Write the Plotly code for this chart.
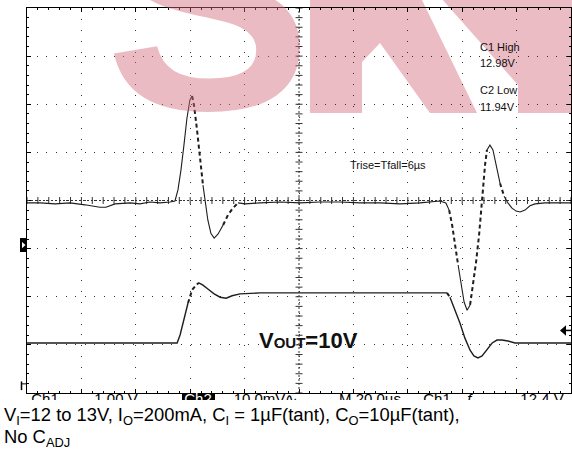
import numpy as np
import plotly.graph_objects as go

# ---------------- data read from the screen capture ----------------
# time in microseconds (M 20.0 us/div, 10 divisions)
ch2_t = [0, 4.8, 10.3, 15.8, 21.3, 26.8, 29.0, 32.4, 37.9, 41.5, 45.2, 48.9, 52.6, 54.4,
         55.5, 56.6, 57.7, 58.8, 59.9, 60.7, 61.4, 62.5, 63.6, 64.7, 65.4, 66.5, 67.6, 68.8,
         70.2, 72.1, 73.9, 75.7, 77.6, 80.2, 85.7, 93.0, 100.4, 107.7, 115.1, 122.4, 129.8,
         137.1, 144.5, 151.8, 154.0, 155.2, 156.3, 157.4, 158.5, 159.6, 160.7, 161.8, 162.9,
         164.0, 165.1, 166.2, 166.9, 167.7, 168.4, 169.1, 170.2, 171.3, 172.4, 173.9, 175.4,
         176.8, 178.3, 179.8, 181.3, 183.1, 184.9, 186.8, 190.4, 196.0, 200.0]
# output ripple, mV (Ch2 10.0 mV/div, AC)
ch2_mv = [-0.5, -0.5, -0.7, -0.5, -0.9, -1.4, -1.4, -0.7, -0.5, -0.7, -0.3, -0.5, -0.3, -0.1,
          2.2, 6.3, 11.5, 17.1, 20.9, 21.7, 19.8, 14.7, 8.4, 3.2, -0.1, -4.1, -6.8, -7.8,
          -7.0, -5.1, -3.0, -1.6, -0.5, -0.7, -0.5, -0.3, -0.5, -0.3, -0.3, -0.5, -0.5,
          -0.7, -0.5, -0.1, -0.5, -2.0, -5.1, -9.3, -13.4, -17.6, -21.1, -22.8, -21.7,
          -17.6, -12.8, -7.2, -2.0, 3.2, 7.4, 10.5, 11.5, 10.5, 7.4, 3.6, 0.9,
          -0.5, -1.6, -2.2, -2.4, -2.0, -1.1, -0.7, -0.5, -0.5, -0.5]
ch1_t = [0, 55.2, 56.3, 57.7, 59.2, 60.7, 62.1, 63.2, 64.7, 66.5, 68.8, 71.0, 73.2, 75.4,
         78.3, 85.7, 154.4, 155.5, 157.4, 159.2, 161.0, 162.9, 164.3, 165.8, 167.3, 169.1,
         171.0, 172.8, 174.6, 176.8, 179.4, 200.0]
# input step, V (Ch1 1.00 V/div)
ch1_v = [11.99, 11.99, 12.16, 12.47, 12.82, 13.09, 13.19, 13.24, 13.19, 13.11, 13.01, 12.94,
         12.92, 12.97, 13.01, 13.03, 13.03, 12.94, 12.67, 12.40, 12.09, 11.84, 11.72, 11.68,
         11.72, 11.86, 11.99, 12.05, 12.05, 12.03, 11.99, 11.99]
# fast parts the scope draws sparsely (time windows, us)
ch2_sparse = [(61.0, 64.2), (72.0, 77.0), (155.0, 158.0), (162.5, 169.0), (173.6, 175.4)]
ch1_sparse = [(59.5, 63.0), (154.5, 155.6)]

meas_labels = ["C1 High", "12.98V", "C2 Low", "11.94V"]
note_label = "Trise=Tfall=6µs"
vout_label = "V<span style='font-size:15px'>OUT</span>=10V"
status_labels = ["Ch1", "1.00 V", "Ch2", "10.0mV∿", "M 20.0µs", "Ch1", "ƒ", "12.4 V"]
caption1 = "V<sub>I</sub>=12 to 13V, I<sub>O</sub>=200mA, C<sub>I</sub> = 1µF(tant), C<sub>O</sub>=10µF(tant),"
caption2 = "No C<sub>ADJ</sub>"

# ---------------- figure ----------------
W, H = 572, 460
ML, MR, MT, MB = 27, 1, 8, 60
PW = W - ML - MR           # paper width in px (544)
PH = H - MT - MB           # paper height in px (392)
STRIP = 7                  # px strip under graticule for status line
FONT = "Liberation Sans, Arial, sans-serif"
TRACE = "#1e1e1e"
PINK = "rgb(235,188,196)"


def split(t, v, ranges):
    runs = []
    for i in range(len(t) - 1):
        mid = 0.5 * (t[i] + t[i + 1])
        d = any(a <= mid <= b for a, b in ranges)
        if runs and runs[-1][0] == d:
            runs[-1][1].append(i + 1)
        else:
            runs.append((d, [i, i + 1]))
    out = {True: ([], []), False: ([], [])}
    for d, idx in runs:
        xs, ys = out[d]
        xs += [t[j] for j in idx] + [None]
        ys += [v[j] for j in idx] + [None]
    return out[False], out[True]


def pxx(p):
    return (p - ML) / PW


def pxy(p):
    return (H - MB - p) / PH


def poly(pts):
    return "M" + " L".join(f"{pxx(a):.5f},{pxy(b):.5f}" for a, b in pts) + " Z"


fig = go.Figure()

# watermark pieces (drawn beneath grid and traces)
fig.add_shape(type="path", xref="paper", yref="paper", layer="below", fillcolor=PINK,
              line=dict(width=0),
              path=poly([(310, -2), (421, -2), (477, 113), (430, 113), (380, 43), (362, 62),
                         (362, 113), (310, 113)]))
fig.add_shape(type="path", xref="paper", yref="paper", layer="below", fillcolor=PINK,
              line=dict(width=0),
              path=poly([(441, -2), (575, -2), (575, 113), (518, 113), (518, 85)]))

# graticule centre axes with cross ticks
cx = np.arange(0, 200.01, 4)
cy = np.arange(-40, 40.01, 2)
fig.add_trace(go.Scatter(x=[100] * len(cy), y=cy, mode="markers", hoverinfo="skip",
                         marker=dict(symbol="line-ew", size=5, line=dict(width=1, color="#333")),
                         showlegend=False))
fig.add_trace(go.Scatter(x=cx, y=[0] * len(cx), mode="markers", hoverinfo="skip",
                         marker=dict(symbol="line-ns", size=5, line=dict(width=1, color="#333")),
                         showlegend=False))

for (t, v, rng, ax, w) in [(ch2_t, ch2_mv, ch2_sparse, "y", 1.1), (ch1_t, ch1_v, ch1_sparse, "y2", 1.4)]:
    (sx, sy), (dx, dy) = split(t, v, rng)
    fig.add_trace(go.Scatter(x=sx, y=sy, yaxis=ax, mode="lines", showlegend=False, hoverinfo="skip",
                             line=dict(color=TRACE, width=w), connectgaps=False))
    fig.add_trace(go.Scatter(x=dx, y=dy, yaxis=ax, mode="lines", showlegend=False, hoverinfo="skip",
                             line=dict(color=TRACE, width=2, dash="4px,3px"), connectgaps=False))

# status line (partly hidden under the graticule, clipped by its own strip)
status_x = [45, 116, 198, 266, 370, 437, 470, 542]
fig.add_trace(go.Scatter(x=status_x, y=[-7] * len(status_x), xaxis="x3", yaxis="y3",
                         mode="text", text=status_labels, textposition="middle center",
                         textfont=dict(family=FONT, size=15,
                                       color=["black", "black", "white", "black", "black", "black", "black", "black"]),
                         cliponaxis=True, showlegend=False, hoverinfo="skip"))

fig.add_shape(type="line", x0=100, x1=100, y0=-40, y1=40, xref="x", yref="y",
              line=dict(color="#333", width=1, dash="2px,2px"))
fig.add_shape(type="line", x0=0, x1=200, y0=0, y1=0, xref="x", yref="y",
              line=dict(color="#333", width=1, dash="2px,2px"))
fig.add_shape(type="rect", x0=182, x1=215, y0=-7, y1=0, xref="x3", yref="y3",
              fillcolor="black", line=dict(width=0), layer="below")

# left channel markers and right trigger arrow
fig.add_shape(type="rect", x0=pxx(20), x1=pxx(27), y0=-10.7, y1=-7.8,
              xref="paper", yref="y", fillcolor="black", line=dict(width=0))
fig.add_shape(type="path", xref="paper", yref="y",
              path=f"M{pxx(22)},-8.6 L{pxx(25.5)},-9.25 L{pxx(22)},-9.9 Z",
              fillcolor="white", line=dict(width=0))
fig.add_shape(type="line", xref="paper", yref="y", x0=pxx(21.5), x1=pxx(21.5),
              y0=-37.6, y1=-39.4, line=dict(color="black", width=1.5))
fig.add_shape(type="line", xref="paper", yref="y", x0=pxx(21.5), x1=0,
              y0=-38.1, y1=-38.1, line=dict(color="black", width=1))
fig.add_shape(type="path", xref="paper", yref="y",
              path=f"M{pxx(560)},-27.0 L{pxx(566)},-25.9 L{pxx(566)},-28.1 Z",
              fillcolor="black", line=dict(width=0))
fig.add_shape(type="line", xref="paper", yref="y", x0=pxx(565), x1=1,
              y0=-27.0, y1=-27.0, line=dict(color="black", width=1.5))

# watermark "S" (semi-transparent so the graticule shows through)
fig.add_annotation(x=pxx(103), y=pxy(2), xref="paper", yref="paper",
                   text="S", showarrow=False, xanchor="left", yanchor="middle",
                   font=dict(family=FONT, size=310, color="rgb(210,106,124)", weight="bold"),
                   opacity=0.45)

# measurement readouts
for lab, yv in zip(meas_labels, [31.9, 28.6, 23.0, 19.4]):
    fig.add_annotation(x=165.8, y=yv, xref="x", yref="y", text=lab, showarrow=False,
                       xanchor="left", yanchor="middle", font=dict(family=FONT, size=11, color="#111"))
fig.add_annotation(x=118.0, y=7.4, xref="x", yref="y", text=note_label, showarrow=False,
                   xanchor="left", yanchor="middle", font=dict(family=FONT, size=11, color="#111"))
fig.add_annotation(x=84.6, y=-29.0, xref="x", yref="y", text=vout_label, showarrow=False,
                   xanchor="left", yanchor="middle",
                   font=dict(family=FONT, size=22, color="#111", weight="bold"))

# captions under the capture
fig.add_annotation(x=pxx(2), y=pxy(416), xref="paper", yref="paper",
                   text=caption1, showarrow=False, xanchor="left", yanchor="middle",
                   font=dict(family=FONT, size=18.4, color="black"))
fig.add_annotation(x=pxx(2), y=pxy(438), xref="paper", yref="paper",
                   text=caption2, showarrow=False, xanchor="left", yanchor="middle",
                   font=dict(family=FONT, size=18.4, color="black"))

axis_common = dict(showline=True, linecolor="black", linewidth=1, mirror="ticks",
                   ticks="inside", ticklen=4, tickcolor="black", showticklabels=False,
                   showgrid=True, gridcolor="#333", gridwidth=1, zeroline=False, automargin=False)

fig.update_layout(
    width=W, height=H, margin=dict(l=ML, r=MR, t=MT, b=MB, autoexpand=False),
    paper_bgcolor="white", plot_bgcolor="rgba(0,0,0,0)", showlegend=False,
    xaxis=dict(range=[0, 200], domain=[0, 1], dtick=20, tick0=0, griddash="1px,9.88px",
               minor=dict(dtick=4, ticks="inside", ticklen=2, tickcolor="black", showgrid=False),
               anchor="y", **axis_common),
    yaxis=dict(range=[-40, 40], domain=[STRIP / PH, 1], dtick=10, tick0=0, griddash="1px,8.625px",
               minor=dict(dtick=2, ticks="inside", ticklen=2, tickcolor="black", showgrid=False),
               anchor="x", **axis_common),
    yaxis2=dict(range=[10.95, 18.95], overlaying="y", visible=False),
    xaxis3=dict(range=[ML, W - MR], domain=[0, 1], anchor="y3", visible=False),
    yaxis3=dict(range=[-STRIP, 0], domain=[0, STRIP / PH], anchor="x3", visible=False),
)

fig.write_html("out.html", config={"displayModeBar": False, "staticPlot": True},
               post_script="document.body.style.margin='0';document.body.style.overflow='hidden';")
